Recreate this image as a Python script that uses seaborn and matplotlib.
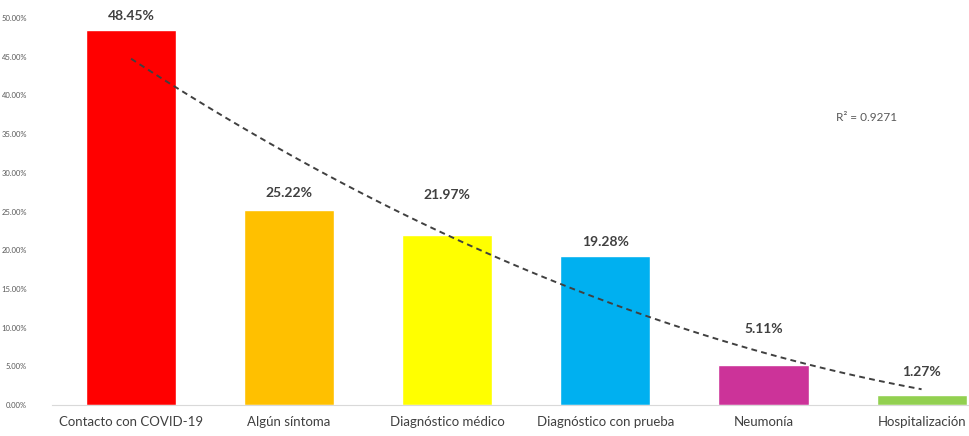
import numpy as np
import pandas as pd
import seaborn as sns
import matplotlib.pyplot as plt

# datos
categorias = ['Contacto con COVID-19', 'Algún síntoma', 'Diagnóstico médico',
              'Diagnóstico con prueba', 'Neumonía', 'Hospitalización']
porcentajes = [48.45, 25.22, 21.97, 19.28, 5.11, 1.27]
colores = ['#FF0000', '#FFC000', '#FFFF00', '#00B0F0', '#CC3399', '#92D050']
r2_texto = 'R² = 0.9271'
# desplazamiento vertical de cada etiqueta (en puntos), como en el original
desplaz_etiquetas = [10, 12, 29, 10, 26, 17]

df = pd.DataFrame({'categoria': categorias, 'pct': porcentajes})

sns.set_style('white')
plt.rcParams['font.family'] = ['Lato', 'DejaVu Sans']

fig = plt.figure(figsize=(9.69, 4.36), dpi=100)
ax = fig.add_axes([52 / 969, 1 - 405 / 436, 1 - 52 / 969, (405 - 18) / 436])

sns.barplot(data=df, x='categoria', y='pct', hue='categoria', palette=colores,
            legend=False, width=0.57, saturation=1, ax=ax)

# etiquetas de valor
for i, (v, d) in enumerate(zip(porcentajes, desplaz_etiquetas)):
    ax.annotate(f'{v:.2f}%', (i, v), xytext=(0, d), textcoords='offset points',
                ha='center', va='center', fontsize=10, fontweight='bold',
                color='#404040', annotation_clip=False)

# línea de tendencia polinómica (grado 2)
x = np.arange(len(porcentajes))
coef = np.polyfit(x, porcentajes, 2)
xs = np.linspace(0, len(porcentajes) - 1, 100)
ax.plot(xs, np.polyval(coef, xs), ls=(0, (3, 2.2)), color='#404040', lw=1.4)
ax.text(4.46, 37.1, r2_texto, fontsize=8.5, color='#595959', va='center')

ax.set_ylim(0, 50)
ax.set_xlim(-0.5, 5.3)
ax.set_yticks(np.arange(0, 51, 5))
ax.set_yticklabels([f'{t:.2f}%' for t in np.arange(0, 51, 5)], fontsize=5.5, color='#595959')
ax.tick_params(axis='x', labelsize=9.5, colors='#404040', length=0, pad=8)
ax.tick_params(axis='y', length=0, pad=18)
ax.set_xlabel('')
ax.set_ylabel('')
for s in ['top', 'right', 'left']:
    ax.spines[s].set_visible(False)
ax.spines['bottom'].set_color('#D9D9D9')

fig.savefig('out.png', dpi=100)
